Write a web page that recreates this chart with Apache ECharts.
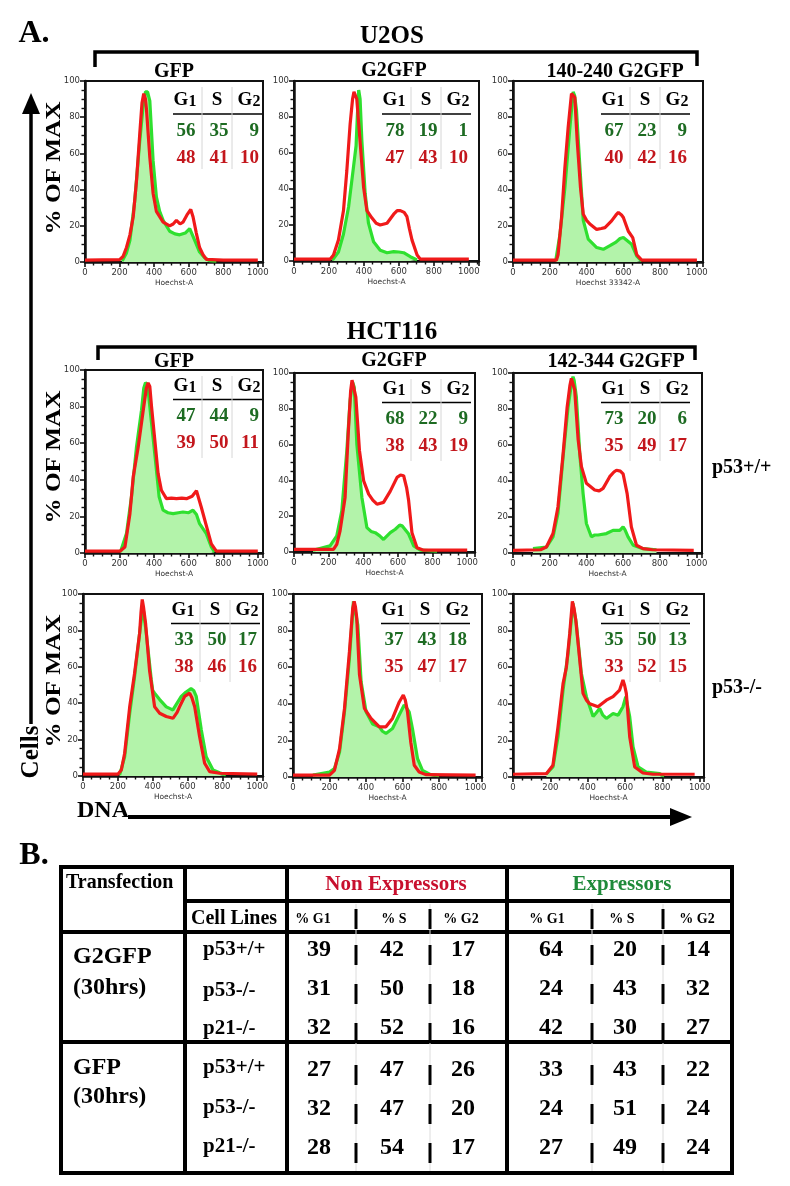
<!DOCTYPE html>
<html><head><meta charset="utf-8">
<script src="https://cdn.jsdelivr.net/npm/echarts@6/dist/echarts.min.js"></script>
<style>html,body{margin:0;padding:0;background:#fff}#c{width:790px;height:1186px}</style>
</head><body><div id="c"></div>
<script>
// ---------- DATA ----------
// Histograms: [Hoechst channel, % of max]
const u2osGfpGreen = [[215,0.5],[240,5],[260,12],[288,34],[317,67],[335,85],[350,94],[362,94],[375,89],[394,56],[413,36],[432,28],[452,23],[490,17],[520,15.5],[548,15],[580,16],[606,18.5],[615,19],[635,12],[663,5.5],[692,2.4],[720,0.8],[760,0.5]];
const u2osGfpRed = [[0,1],[200,1.3],[220,3],[240,8],[260,15],[279,25],[298,45],[317,71],[330,88],[340,93],[350,90],[356,84],[375,58],[394,38],[413,28],[452,22],[490,20],[510,21],[529,23],[550,21],[567,22],[590,26],[612,29],[625,25],[644,16],[663,8],[683,4],[702,1.5],[800,1],[1000,1]];
const u2osG2Green = [[220,0.5],[254,5],[283,15],[312,30],[340,52],[355,64],[362,80],[370,95],[378,90],[388,67],[407,37.5],[426,21],[455,10.7],[493,6],[532,4.6],[570,5.2],[600,5],[627,4.6],[665,2.4],[704,0.6]];
const u2osG2Red = [[0,1],[206,1],[226,3.3],[254,11.6],[283,28],[302,50],[321,76],[335,90],[343,94],[352,93],[359,90],[379,65],[398,41],[417,28],[445,24],[470,21],[493,20],[532,21],[570,26],[590,28],[608,28],[630,27],[646,24.6],[660,18],[675,11.6],[704,3.3],[723,1],[1000,1]];
const u2os140Green = [[232,0.5],[255,15],[282,41],[309,74],[327,94],[335,92],[345,84],[364,52],[382,23],[409,12.6],[455,8],[491,7],[527,9],[560,11],[582,13],[600,13.5],[609,12.6],[645,9.8],[673,3.3],[700,0.5]];
const u2os140Red = [[0,1],[236,1],[245,4],[264,24.6],[282,52],[300,74.5],[318,93],[328,93],[336,91],[349,67],[367,41],[382,26.4],[400,23],[418,21],[455,18],[480,18.5],[500,19],[536,22.7],[560,26],[573,27.4],[590,26],[600,24.6],[627,17],[651,13.5],[673,4],[700,1],[1000,1]];
const hctWtGfpGreen = [[205,0.5],[240,10.6],[269,30.7],[298,58],[327,78],[340,90],[350,93],[362,92],[375,80],[404,54],[429,30.7],[452,23.4],[480,22],[510,21.5],[540,22],[567,22.4],[600,22],[625,23.4],[645,21],[663,16],[702,10.6],[731,3.3],[750,0.5]];
const hctWtGfpRed = [[0,1],[202,1],[231,3.3],[260,21.5],[279,41.6],[308,58],[337,78],[355,90],[365,93],[375,91],[385,80],[404,61.7],[423,43.4],[442,34.3],[471,29.7],[500,30],[529,29.7],[560,30],[587,29.7],[620,31],[645,34],[654,33.4],[673,25],[702,15],[731,5],[760,1],[1000,1]];
const hctWtG2Green = [[110,1],[208,3.4],[247,9],[276,23],[305,56.6],[324,84.7],[338,95],[348,92],[363,60],[392,30.5],[421,13.6],[445,11.5],[469,10.8],[495,9],[517,7],[556,10.8],[585,12.7],[610,15],[624,14.6],[662,10],[691,3.4],[730,1],[826,0.5]];
const hctWtG2Red = [[0,1.5],[228,1.5],[247,4.3],[266,11.8],[295,30.5],[313,66],[327,90],[335,96],[345,95],[357,86.5],[378,56.6],[402,39.8],[431,32.3],[455,29],[479,26.7],[517,27.7],[556,34],[595,41.7],[615,43],[633,42.6],[650,36],[662,28.6],[681,10.8],[710,2.4],[749,1],[1000,1]];
const hctWt142Green = [[109,2.4],[182,3.3],[218,9],[245,22],[273,53.5],[300,81],[320,95],[327,98],[333,96],[345,87],[364,55],[382,33],[400,16.4],[427,9],[445,10],[464,10],[509,10.8],[545,12.6],[582,12.6],[600,14.5],[610,13],[627,9],[655,4.3],[709,2.4],[782,1.8]];
const hctWt142Red = [[0,1.5],[150,1.8],[182,3.3],[218,10.8],[245,25.6],[273,55],[295,81],[310,93],[318,97],[325,96],[336,90.7],[355,63],[373,48],[400,38.7],[445,35],[470,34.5],[491,35.9],[527,42.4],[550,45],[564,46],[585,45.5],[600,44],[622,33],[645,14.5],[673,4.3],[709,2.4],[760,1.8],[985,1.5]];
const hctKoGfpGreen = [[210,0.5],[239,10.6],[268,34.5],[296,54.7],[325,78.5],[344,93],[363,78.5],[392,52.8],[400,47],[411,45.5],[440,42],[478,38],[500,37],[516,36.3],[564,43.7],[590,46],[620,48],[635,47],[650,43.7],[679,25.3],[707,10.6],[746,3.3],[784,1.8],[820,0.5]];
const hctKoGfpRed = [[0,1],[200,1],[220,3.3],[239,12.5],[268,38],[296,56.5],[325,78.5],[333,90],[340,97],[347,93],[359,84],[382,58],[411,38],[440,34.5],[478,32.7],[516,31.7],[540,35],[554,38],[583,43.7],[612,45.5],[625,43],[641,38],[669,21.7],[698,7],[727,2.4],[784,1.5],[1000,1]];
const hctKoG2Green = [[109,1],[200,2.7],[227,4.6],[255,13.7],[282,35.6],[309,65],[331,96],[340,95],[355,83],[373,52],[400,35.6],[436,29],[473,27.4],[490,25],[509,23.8],[545,26.5],[582,34],[609,39.3],[620,38],[636,35.6],[654,26.5],[682,10],[709,3.6],[754,1.3],[800,0.8]];
const hctKoG2Red = [[0,1],[200,1],[227,3.6],[255,15.5],[282,37.5],[309,68.5],[327,92],[335,96],[342,93],[349,87],[364,56],[391,37.5],[427,32],[473,27.4],[509,27.4],[545,32],[582,41],[604,44.8],[615,42],[627,35.6],[645,19],[664,6.4],[691,2.7],[727,1.3],[1000,1]];
const hctKo142Green = [[179,1.8],[214,5.5],[241,22],[268,47.5],[295,67.6],[321,95],[339,84],[366,56.7],[393,43.9],[429,33],[445,35],[464,37.5],[480,34],[500,32],[536,34.7],[563,33.8],[589,38.4],[604,43.9],[625,33],[643,16.5],[670,5.5],[714,2.7],[786,1.8],[810,0.5]];
const hctKo142Red = [[0,1.5],[179,1.8],[214,6.4],[241,27.4],[268,51],[286,60],[304,78.6],[318,96],[327,92],[336,86],[354,67.6],[375,45.7],[393,42],[411,40],[455,38.4],[500,42],[536,43.9],[571,47.5],[589,53],[598,50],[607,45.7],[625,22],[652,5.5],[696,2.2],[750,1.5],[973,1.5]];

// Inset percentages [G1, S, G2]
const insetGreen = [[56,35,9],[78,19,1],[67,23,9],[47,44,9],[68,22,9],[73,20,6],[33,50,17],[37,43,18],[35,50,13]];
const insetRed   = [[48,41,10],[47,43,10],[40,42,16],[39,50,11],[38,43,19],[35,49,17],[38,46,16],[35,47,17],[33,52,15]];

const panelTitles = ['GFP','G2GFP','140-240 G2GFP','GFP','G2GFP','142-344 G2GFP'];
const axisNames = ['Hoechst-A','Hoechst-A','Hoechst 33342-A','Hoechst-A','Hoechst-A','Hoechst-A','Hoechst-A','Hoechst-A','Hoechst-A'];
const yTicks = [0,20,40,60,80,100];
const xTicks = [0,200,400,600,800,1000];

// Table B
const cellLines = ['p53+/+','p53-/-','p21-/-','p53+/+','p53-/-','p21-/-'];
const nonExpr = [[39,42,17],[31,50,18],[32,52,16],[27,47,26],[32,47,20],[28,54,17]];
const expr    = [[64,20,14],[24,43,32],[42,30,27],[33,43,22],[24,51,24],[27,49,24]];
const phaseHeads = ['% G1','% S','% G2'];

// ---------- LAYOUT ----------
const panels = [
  {l:85, t:81, w:178,h:181,xmax:1030},
  {l:294,t:81, w:185,h:180,xmax:1058},
  {l:513,t:81, w:190,h:181,xmax:1033},
  {l:85, t:370,w:178,h:183,xmax:1030},
  {l:294,t:373,w:181,h:179,xmax:1045},
  {l:513,t:373,w:189,h:180,xmax:1030},
  {l:83, t:594,w:180,h:182,xmax:1033},
  {l:293,t:594,w:189,h:183,xmax:1035},
  {l:513,t:594,w:191,h:183,xmax:1023}
];
const greens = [u2osGfpGreen,u2osG2Green,u2os140Green,hctWtGfpGreen,hctWtG2Green,hctWt142Green,hctKoGfpGreen,hctKoG2Green,hctKo142Green];
const reds = [u2osGfpRed,u2osG2Red,u2os140Red,hctWtGfpRed,hctWtG2Red,hctWt142Red,hctKoGfpRed,hctKoG2Red,hctKo142Red];

const SERIF = '"Liberation Serif","Times New Roman",serif';
const bf = s => 'bold ' + s + 'px ' + SERIF;
const GL = '#2fe02f', GF = '#b3f3aa', RL = '#f01a1a';
const TG = '#1d6b22', TR = '#c3161c';

const chart = echarts.init(document.getElementById('c'), null, {renderer:'canvas'});

const grid = panels.map(p => ({left:p.l, top:p.t, width:p.w, height:p.h, show:true, borderColor:'#111', borderWidth:2, backgroundColor:'#fff'}));
const lab = {fontSize:8.5, fontFamily:'DejaVu Sans', color:'#333'};
const xAxis = panels.map((p,i) => ({
  type:'value', gridIndex:i, min:0, max:p.xmax, interval:200,
  axisLine:{show:true, onZero:false, lineStyle:{color:'#111', width:2.5}},
  axisTick:{show:true, length:5, lineStyle:{color:'#111', width:1.6}},
  minorTick:{show:true, splitNumber:4, length:3.5, lineStyle:{color:'#111', width:1.4}},
  splitLine:{show:false}, minorSplitLine:{show:false},
  axisLabel:Object.assign({margin:6, formatter: v => xTicks.indexOf(v) >= 0 ? String(v) : ''}, lab),
  name:axisNames[i], nameLocation:'middle', nameGap:17,
  nameTextStyle:{fontSize:7.5, fontFamily:'DejaVu Sans', color:'#333'}
}));
const yAxis = panels.map((p,i) => ({
  type:'value', gridIndex:i, min:0, max:100, interval:20,
  axisLine:{show:true, onZero:false, lineStyle:{color:'#111', width:2.5}},
  axisTick:{show:true, length:5, lineStyle:{color:'#111', width:1.6}},
  minorTick:{show:true, splitNumber:4, length:3.5, lineStyle:{color:'#111', width:1.4}},
  splitLine:{show:false},
  axisLabel:Object.assign({margin:5, formatter: v => yTicks.indexOf(v) >= 0 ? String(v) : ''}, lab)
}));
const series = [];
panels.forEach((p,i) => {
  series.push({type:'line', xAxisIndex:i, yAxisIndex:i, data:greens[i], symbol:'none', showSymbol:false,
    lineStyle:{color:GL, width:3.2}, itemStyle:{color:GL}, areaStyle:{color:GF, opacity:1}, z:2, silent:true});
  series.push({type:'line', xAxisIndex:i, yAxisIndex:i, data:reds[i], symbol:'none', showSymbol:false,
    lineStyle:{color:RL, width:3.2}, itemStyle:{color:RL}, z:3, silent:true});
});

// ---------- GRAPHICS ----------
const g = [];
function txt(x, y, text, font, fill, align, extra) {
  g.push(Object.assign({type:'text', x:x, y:y, z:100, style:{text:text, font:font, fill:fill||'#000', textAlign:align||'center', textVerticalAlign:'middle'}}, extra||{}));
}
function ln(x1,y1,x2,y2,w,c,extra) {
  g.push(Object.assign({type:'line', z:100, shape:{x1:x1,y1:y1,x2:x2,y2:y2}, style:{stroke:c||'#000', lineWidth:w}}, extra||{}));
}
function pl(points,w) { g.push({type:'polyline', z:100, shape:{points:points}, style:{stroke:'#000', lineWidth:w, fill:null}}); }
function poly(points) { g.push({type:'polygon', z:100, shape:{points:points}, style:{fill:'#000'}}); }

txt(34, 34, 'A.', bf(32), '#000');
txt(392, 37, 'U2OS', bf(25));
pl([[95,67],[95,52],[697,52],[697,66]], 3.5);
txt(392, 333, 'HCT116', bf(25));
pl([[98,360],[98,347],[695,347],[695,360]], 3.5);

const titlePos = [[174,72],[394,71],[615,72],[174,362],[394,361],[616,362]];
panelTitles.forEach((t,i) => txt(titlePos[i][0], titlePos[i][1], t, bf(20)));

txt(712, 468, 'p53+/+', bf(20), '#000', 'left');
txt(712, 688, 'p53-/-', bf(20), '#000', 'left');

// % OF MAX labels
[[55,168],[55,457],[55,681]].forEach(pt => txt(pt[0], pt[1], '% OF MAX', bf(21), '#000', 'center', {rotation:Math.PI/2, scaleX:1.2}));

// Cells / DNA arrows
ln(31, 110, 31, 724, 3.5);
poly([[31,93],[22,114],[40,114]]);
txt(32, 752, 'Cells', bf(25), '#000', 'center', {rotation:Math.PI/2});
txt(77, 811, 'DNA', bf(24), '#000', 'left');
ln(128, 817, 675, 817, 4);
poly([[692,817],[670,808],[670,826]]);

// insets
const offs = [[19.5,33,50.5,77.5],[16.5,29.5,46.5,73.5],[16,29.5,46.5,73.5]];
panels.forEach((p,i) => {
  const o = offs[Math.floor(i/3)], L = p.l, T = p.t;
  const rich = {g:{font:bf(19), fill:'#000'}, n:{font:bf(16), fill:'#000', verticalAlign:'bottom'}};
  g.push({type:'text', x:L+100, y:T+o[0], z:100, style:{text:'{g|G}{n|1}', rich:rich, textAlign:'center', textVerticalAlign:'middle', font:bf(19)}});
  txt(L+132, T+o[0], 'S', bf(19));
  g.push({type:'text', x:L+164, y:T+o[0], z:100, style:{text:'{g|G}{n|2}', rich:rich, textAlign:'center', textVerticalAlign:'middle', font:bf(19)}});
  ln(L+88, T+o[1], L+177, T+o[1], 1.6);
  ln(L+117, T+6, L+117, T+88, 1, '#d6d6d6');
  ln(L+147, T+6, L+147, T+88, 1, '#d6d6d6');
  const cx = [L+101, L+134, L+174], al = ['center','center','right'];
  for (let k=0;k<3;k++) {
    txt(cx[k], T+o[2], String(insetGreen[i][k]), bf(19), TG, al[k]);
    txt(cx[k], T+o[3], String(insetRed[i][k]), bf(19), TR, al[k]);
  }
});

// ---------- TABLE B ----------
txt(34, 856, 'B.', bf(32));
g.push({type:'rect', z:100, shape:{x:61,y:867,width:671,height:306}, style:{fill:null, stroke:'#000', lineWidth:4}});
ln(185, 867, 185, 1173, 4);
ln(287, 867, 287, 1173, 4);
ln(507, 867, 507, 1173, 4);
ln(185, 901, 732, 901, 4);
ln(61, 932, 732, 932, 4);
ln(61, 1042, 732, 1042, 4);

txt(66, 883, 'Transfection', bf(20), '#000', 'left');
txt(191, 919, 'Cell Lines', bf(20), '#000', 'left');
txt(396, 885, 'Non Expressors', bf(21), '#c8102e');
txt(622, 885, 'Expressors', bf(21), '#1f8a3a');
const subX = [313,394,461,547,622,697];
subX.forEach((x,k) => txt(x, 919, phaseHeads[k%3], bf(14)));

const rowY = [950,989,1028,1070,1109,1148];
const lineY = [950,991,1029,1068,1108,1147];
const valX = [319,392,463,551,625,698];
rowY.forEach((y,r) => {
  for (let k=0;k<3;k++) {
    txt(valX[k], y, String(nonExpr[r][k]), bf(24));
    txt(valX[k+3], y, String(expr[r][k]), bf(24));
  }
  txt(203, lineY[r], cellLines[r], bf(21), '#000', 'left');
});
txt(73, 957, 'G2GFP', bf(24), '#000', 'left');
txt(73, 988, '(30hrs)', bf(24), '#000', 'left');
txt(73, 1068, 'GFP', bf(24), '#000', 'left');
txt(73, 1097, '(30hrs)', bf(24), '#000', 'left');

[356,430,592,663].forEach(x => {
  ln(x, 904, x, 1171, 1, '#dcdcdc');
  ln(x, 909, x, 929, 3);
  rowY.forEach(y => ln(x, y-5, x, y+15, 3));
});

chart.setOption({animation:false, backgroundColor:'#fff', grid:grid, xAxis:xAxis, yAxis:yAxis, series:series, graphic:{elements:g}});
</script></body></html>
